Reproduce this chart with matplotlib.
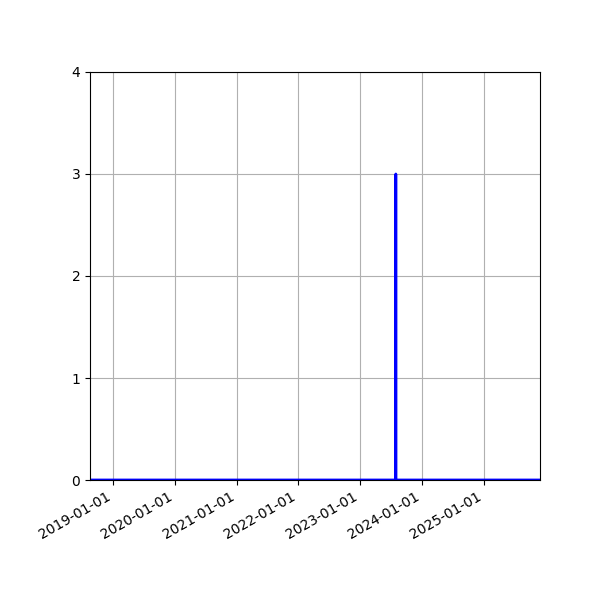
import matplotlib
matplotlib.use("Agg")
import matplotlib.pyplot as plt
import matplotlib.dates as mdates
import numpy as np

dates = np.array(["2018-08-18", "2023-07-31", "2023-08-01", "2023-08-02", "2025-12-01"], dtype="datetime64[D]")
values = [0, 0, 3, 0, 0]
yticks = [0, 1, 2, 3, 4]

fig = plt.figure(figsize=(6, 6), dpi=100)
ax = fig.add_axes([0.15, 0.2, 0.75, 0.68])
ax.plot(dates, values, color="blue", linewidth=2)
ax.set_xlim(dates[0], dates[-1])
ax.set_ylim(0, 4)
ax.set_yticks(yticks)
ax.xaxis.set_major_locator(mdates.YearLocator())
ax.xaxis.set_major_formatter(mdates.DateFormatter("%Y-%m-%d"))
ax.grid(True, color="#b0b0b0")
for lab in ax.get_xticklabels():
    lab.set_rotation(30)
    lab.set_ha("right")
fig.savefig("out.png", dpi=100)
